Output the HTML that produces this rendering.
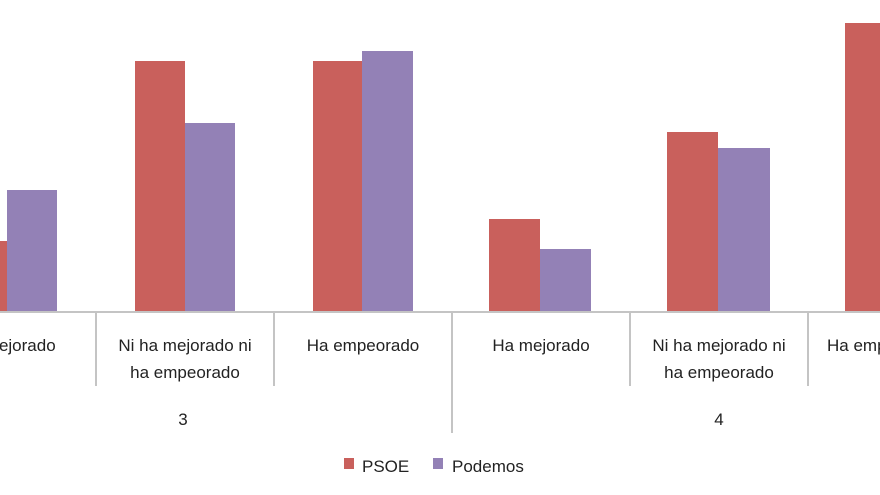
<!DOCTYPE html>
<html><head><style>
html,body{margin:0;padding:0;background:#fff;}
body{width:880px;height:495px;overflow:hidden;font-family:"Liberation Sans",sans-serif;color:#222;}
#w{position:relative;width:880px;height:495px;overflow:hidden;}
.b{position:absolute;}
.r{background:#C9605C;}
.p{background:#9381B6;}
.s{position:absolute;width:2px;background:#c4c4c4;}
.t{position:absolute;font-size:17px;text-align:center;line-height:27px;width:178px;}
</style></head><body><div id="w">
<div class="b r" style="left:0;top:241px;width:7px;height:71px"></div>
<div class="b p" style="left:7px;top:190px;width:50px;height:122px"></div>
<div class="b r" style="left:135px;top:61px;width:50px;height:251px"></div>
<div class="b p" style="left:185px;top:123px;width:50px;height:189px"></div>
<div class="b r" style="left:313px;top:61px;width:49px;height:251px"></div>
<div class="b p" style="left:362px;top:51px;width:51px;height:261px"></div>
<div class="b r" style="left:489px;top:219px;width:51px;height:93px"></div>
<div class="b p" style="left:540px;top:249px;width:51px;height:63px"></div>
<div class="b r" style="left:667px;top:132px;width:51px;height:180px"></div>
<div class="b p" style="left:718px;top:148px;width:52px;height:164px"></div>
<div class="b r" style="left:845px;top:23px;width:35px;height:289px"></div>
<div class="b" style="left:0;top:311px;width:880px;height:2px;background:#c4c4c4"></div>
<div class="s" style="left:95px;top:312px;height:74px"></div>
<div class="s" style="left:273px;top:312px;height:74px"></div>
<div class="s" style="left:451px;top:312px;height:121px"></div>
<div class="s" style="left:629px;top:312px;height:74px"></div>
<div class="s" style="left:807px;top:312px;height:74px"></div>
<div class="t" style="left:-82px;top:332px">Ha mejorado</div>
<div class="t" style="left:96px;top:332px">Ni ha mejorado ni<br>ha empeorado</div>
<div class="t" style="left:274px;top:332px">Ha empeorado</div>
<div class="t" style="left:452px;top:332px">Ha mejorado</div>
<div class="t" style="left:630px;top:332px">Ni ha mejorado ni<br>ha empeorado</div>
<div class="t" style="left:808px;top:332px;width:72px;text-align:left;padding-left:19px;white-space:nowrap;box-sizing:border-box;overflow:hidden">Ha empeorado</div>
<div class="t" style="left:94px;top:406px">3</div>
<div class="t" style="left:630px;top:406px">4</div>
<div class="b r" style="left:344px;top:458px;width:10px;height:11px"></div>
<div class="t" style="left:362px;top:453px;width:60px;text-align:left">PSOE</div>
<div class="b p" style="left:433px;top:458px;width:10px;height:11px"></div>
<div class="t" style="left:452px;top:453px;width:100px;text-align:left">Podemos</div>
</div></body></html>
